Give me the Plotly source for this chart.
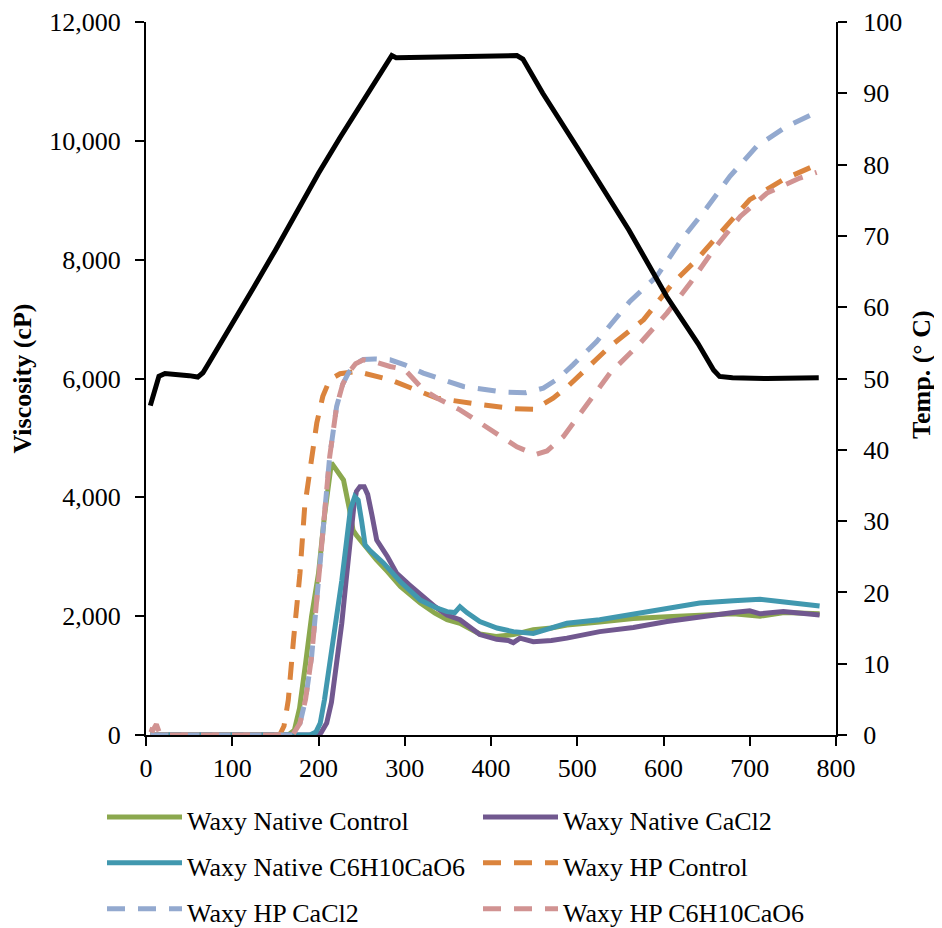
import plotly.graph_objects as go

# ---------------- data ----------------
t_wnc = [5, 15, 100, 165, 172, 178, 185, 192, 200, 207, 215, 222, 229, 236, 240, 244, 255, 267, 280, 295, 318, 335, 349, 364, 387, 406, 426, 440, 449, 470, 488, 526, 565, 604, 642, 681, 712, 740, 781]
v_wnc = [0, 0, 0, 0, 80, 450, 1200, 2000, 2720, 3700, 4580, 4450, 4290, 3790, 3450, 3360, 3150, 2950, 2750, 2500, 2220, 2050, 1940, 1880, 1700, 1660, 1690, 1740, 1770, 1800, 1850, 1900, 1960, 1990, 2020, 2040, 2000, 2060, 2040]

t_wncacl = [5, 100, 195, 203, 209.5, 215, 221, 227, 232, 236.6, 241, 244, 248, 253, 257, 262, 267.5, 280, 290.7, 305, 321.5, 335, 349, 364, 387, 406.6, 420, 425.9, 433.6, 449, 470, 488, 526, 565, 604, 642, 681, 700, 712, 739, 781]
v_wncacl = [0, 0, 0, 40, 200, 550, 1150, 1880, 2600, 3280, 3850, 4100, 4180, 4180, 4050, 3700, 3280, 3000, 2720, 2530, 2330, 2160, 2020, 1940, 1690, 1610, 1590, 1555, 1630, 1570, 1590, 1630, 1740, 1810, 1910, 1990, 2060, 2090, 2040, 2080, 2020]

t_wnlac = [5, 100, 190, 197, 202, 207, 213, 221, 227, 232.7, 237, 242, 246, 250, 254, 260, 267, 275, 295, 318, 335, 349, 358, 364, 372, 387, 407, 426, 449, 470, 488, 526, 565, 604, 642, 681, 712, 740, 781]
v_wnlac = [0, 0, 0, 50, 200, 600, 1200, 1880, 2600, 3280, 3800, 4010, 3950, 3600, 3200, 3100, 3000, 2900, 2580, 2270, 2150, 2076, 2060, 2160, 2060, 1910, 1800, 1740, 1710, 1790, 1880, 1940, 2040, 2130, 2220, 2260, 2285, 2240, 2170]

t_hpc = [5, 100, 155, 160, 165, 171, 178.5, 184, 192, 198, 205, 213, 225, 244, 283, 321.5, 337, 383, 428, 450, 472, 490, 507, 538, 577, 611, 638.5, 669, 700, 739, 778]
v_hpc = [0, 0, 0, 150, 590, 1600, 2720, 3845, 4690, 5250, 5700, 5980, 6080, 6120, 5980, 5754, 5670, 5570, 5490, 5480, 5670, 5880, 6120, 6540, 6990, 7610, 8000, 8500, 9010, 9350, 9600]

t_hpcacl = [5, 100, 170, 178.5, 185, 192, 200, 205.6, 213, 221, 228, 234.6, 243, 252, 265, 283, 300, 321.5, 340, 368, 414, 440, 460.6, 478, 495, 522.5, 561, 592, 621, 650, 677, 708, 743, 779.5]
v_hpcacl = [0, 0, 0, 197, 600, 1318, 2610, 3565, 4687, 5529, 5900, 6091, 6250, 6320, 6330, 6315, 6230, 6091, 6000, 5866, 5771, 5760, 5838, 6000, 6230, 6623, 7297, 7718, 8336, 8869, 9402, 9907, 10244, 10496]

t_hplac = [4, 8, 12, 16, 20, 100, 170, 178.5, 185, 192, 200, 205.6, 213, 221, 228, 234.6, 243, 252, 265, 283, 300, 321.5, 340, 364, 402.7, 430, 443, 452, 465, 484, 511, 538, 573, 604, 631, 658, 689, 720, 758, 777.6]
v_hplac = [100, 80, 180, 20, 0, 0, 0, 197, 600, 1318, 2610, 3565, 4687, 5529, 5900, 6091, 6250, 6315, 6280, 6202, 6150, 5810, 5650, 5473, 5108, 4850, 4771, 4720, 4780, 5024, 5557, 6091, 6596, 7101, 7606, 8167, 8728, 9122, 9374, 9469]

t_temp = [5, 10, 15, 22, 35, 50, 60, 66, 72, 80, 100, 125, 150, 175, 200, 225, 250, 270, 280, 285, 290, 320, 360, 400, 430, 437, 443, 460, 500, 526, 560, 603.7, 640, 658, 665, 680, 720, 780]
temp = [46.2, 48.5, 50.3, 50.7, 50.6, 50.4, 50.2, 50.8, 52.0, 53.6, 57.5, 62.8, 68.0, 73.5, 78.8, 83.8, 88.6, 92.6, 94.6, 95.3, 95.0, 95.1, 95.2, 95.2, 95.3, 94.8, 93.6, 90.0, 82.4, 77.4, 70.8, 61.5, 54.9, 51.2, 50.3, 50.1, 50.0, 50.1]

names = ["Waxy Native Control", "Waxy Native CaCl2", "Waxy Native C6H10CaO6",
         "Waxy HP Control", "Waxy HP CaCl2", "Waxy HP C6H10CaO6"]
colors = ["#8BA84E", "#71588F", "#4198AF", "#DB843D", "#93A9CF", "#D19392"]
dashes = ["solid", "solid", "solid", "18px,13px", "18px,13px", "18px,13px"]
legend_col = ["legend", "legend2", "legend", "legend2", "legend", "legend2"]
xs = [t_wnc, t_wncacl, t_wnlac, t_hpc, t_hpcacl, t_hplac]
ys = [v_wnc, v_wncacl, v_wnlac, v_hpc, v_hpcacl, v_hplac]

y_title = "Viscosity (cP)"
y2_title = "Temp. (° C)"

FONT = "Liberation Serif, Times New Roman, serif"
W, H = 934, 920   # page body has an 8px margin
L, R, T, B = 138, 106, 14, 193
PW = W - L - R

fig = go.Figure()
fig.add_trace(go.Scatter(x=t_temp, y=temp, yaxis="y2", mode="lines",
                         line=dict(color="black", width=5), showlegend=False,
                         name="Temp."))
for n, c, d, lg, x, y in zip(names, colors, dashes, legend_col, xs, ys):
    fig.add_trace(go.Scatter(x=x, y=y, mode="lines", legend=lg,
                             name=f"<span style='font-size:26px'>{n}</span>",
                             line=dict(color=c, width=5, dash=d)))

axis_common = dict(showline=True, linecolor="black", linewidth=2,
                   ticks="outside", ticklen=9, tickwidth=2, tickcolor="black",
                   showgrid=False, zeroline=False, automargin=False,
                   tickfont=dict(family=FONT, size=26, color="black"))

legend_common = dict(orientation="v", xref="container", yref="container",
                     xanchor="left", y=1 - 781 / H, yanchor="top",
                     itemwidth=75, tracegroupgap=0,
                     font=dict(family=FONT, size=33, color="black"),
                     bgcolor="rgba(0,0,0,0)")

title_font = dict(family=FONT, size=26, color="black", weight="bold")

fig.update_layout(
    width=W, height=H,
    margin=dict(l=L, r=R, t=T, b=B, autoexpand=False),
    paper_bgcolor="white", plot_bgcolor="white",
    font=dict(family=FONT, size=26, color="black"),
    xaxis=dict(range=[0, 800], dtick=100, tick0=0, ticklabelstandoff=0,
               **axis_common),
    yaxis=dict(range=[0, 12000], dtick=2000, tickformat=",d",
               ticklabelstandoff=9, **axis_common),
    yaxis2=dict(range=[0, 100], dtick=10, overlaying="y", side="right",
                ticklabelstandoff=11, **axis_common),
    legend=dict(x=94 / W, **legend_common),
    legend2=dict(x=470 / W, **legend_common),
    annotations=[
        dict(text=y_title, xref="paper", yref="paper",
             x=(14 - L) / PW, y=0.5, xanchor="center", yanchor="middle",
             textangle=-90, showarrow=False, font=title_font),
        dict(text=y2_title, xref="paper", yref="paper",
             x=(914 - L) / PW, y=0.505, xanchor="center", yanchor="middle",
             textangle=-90, showarrow=False, font=title_font),
    ],
)

fig.write_html("out.html")
